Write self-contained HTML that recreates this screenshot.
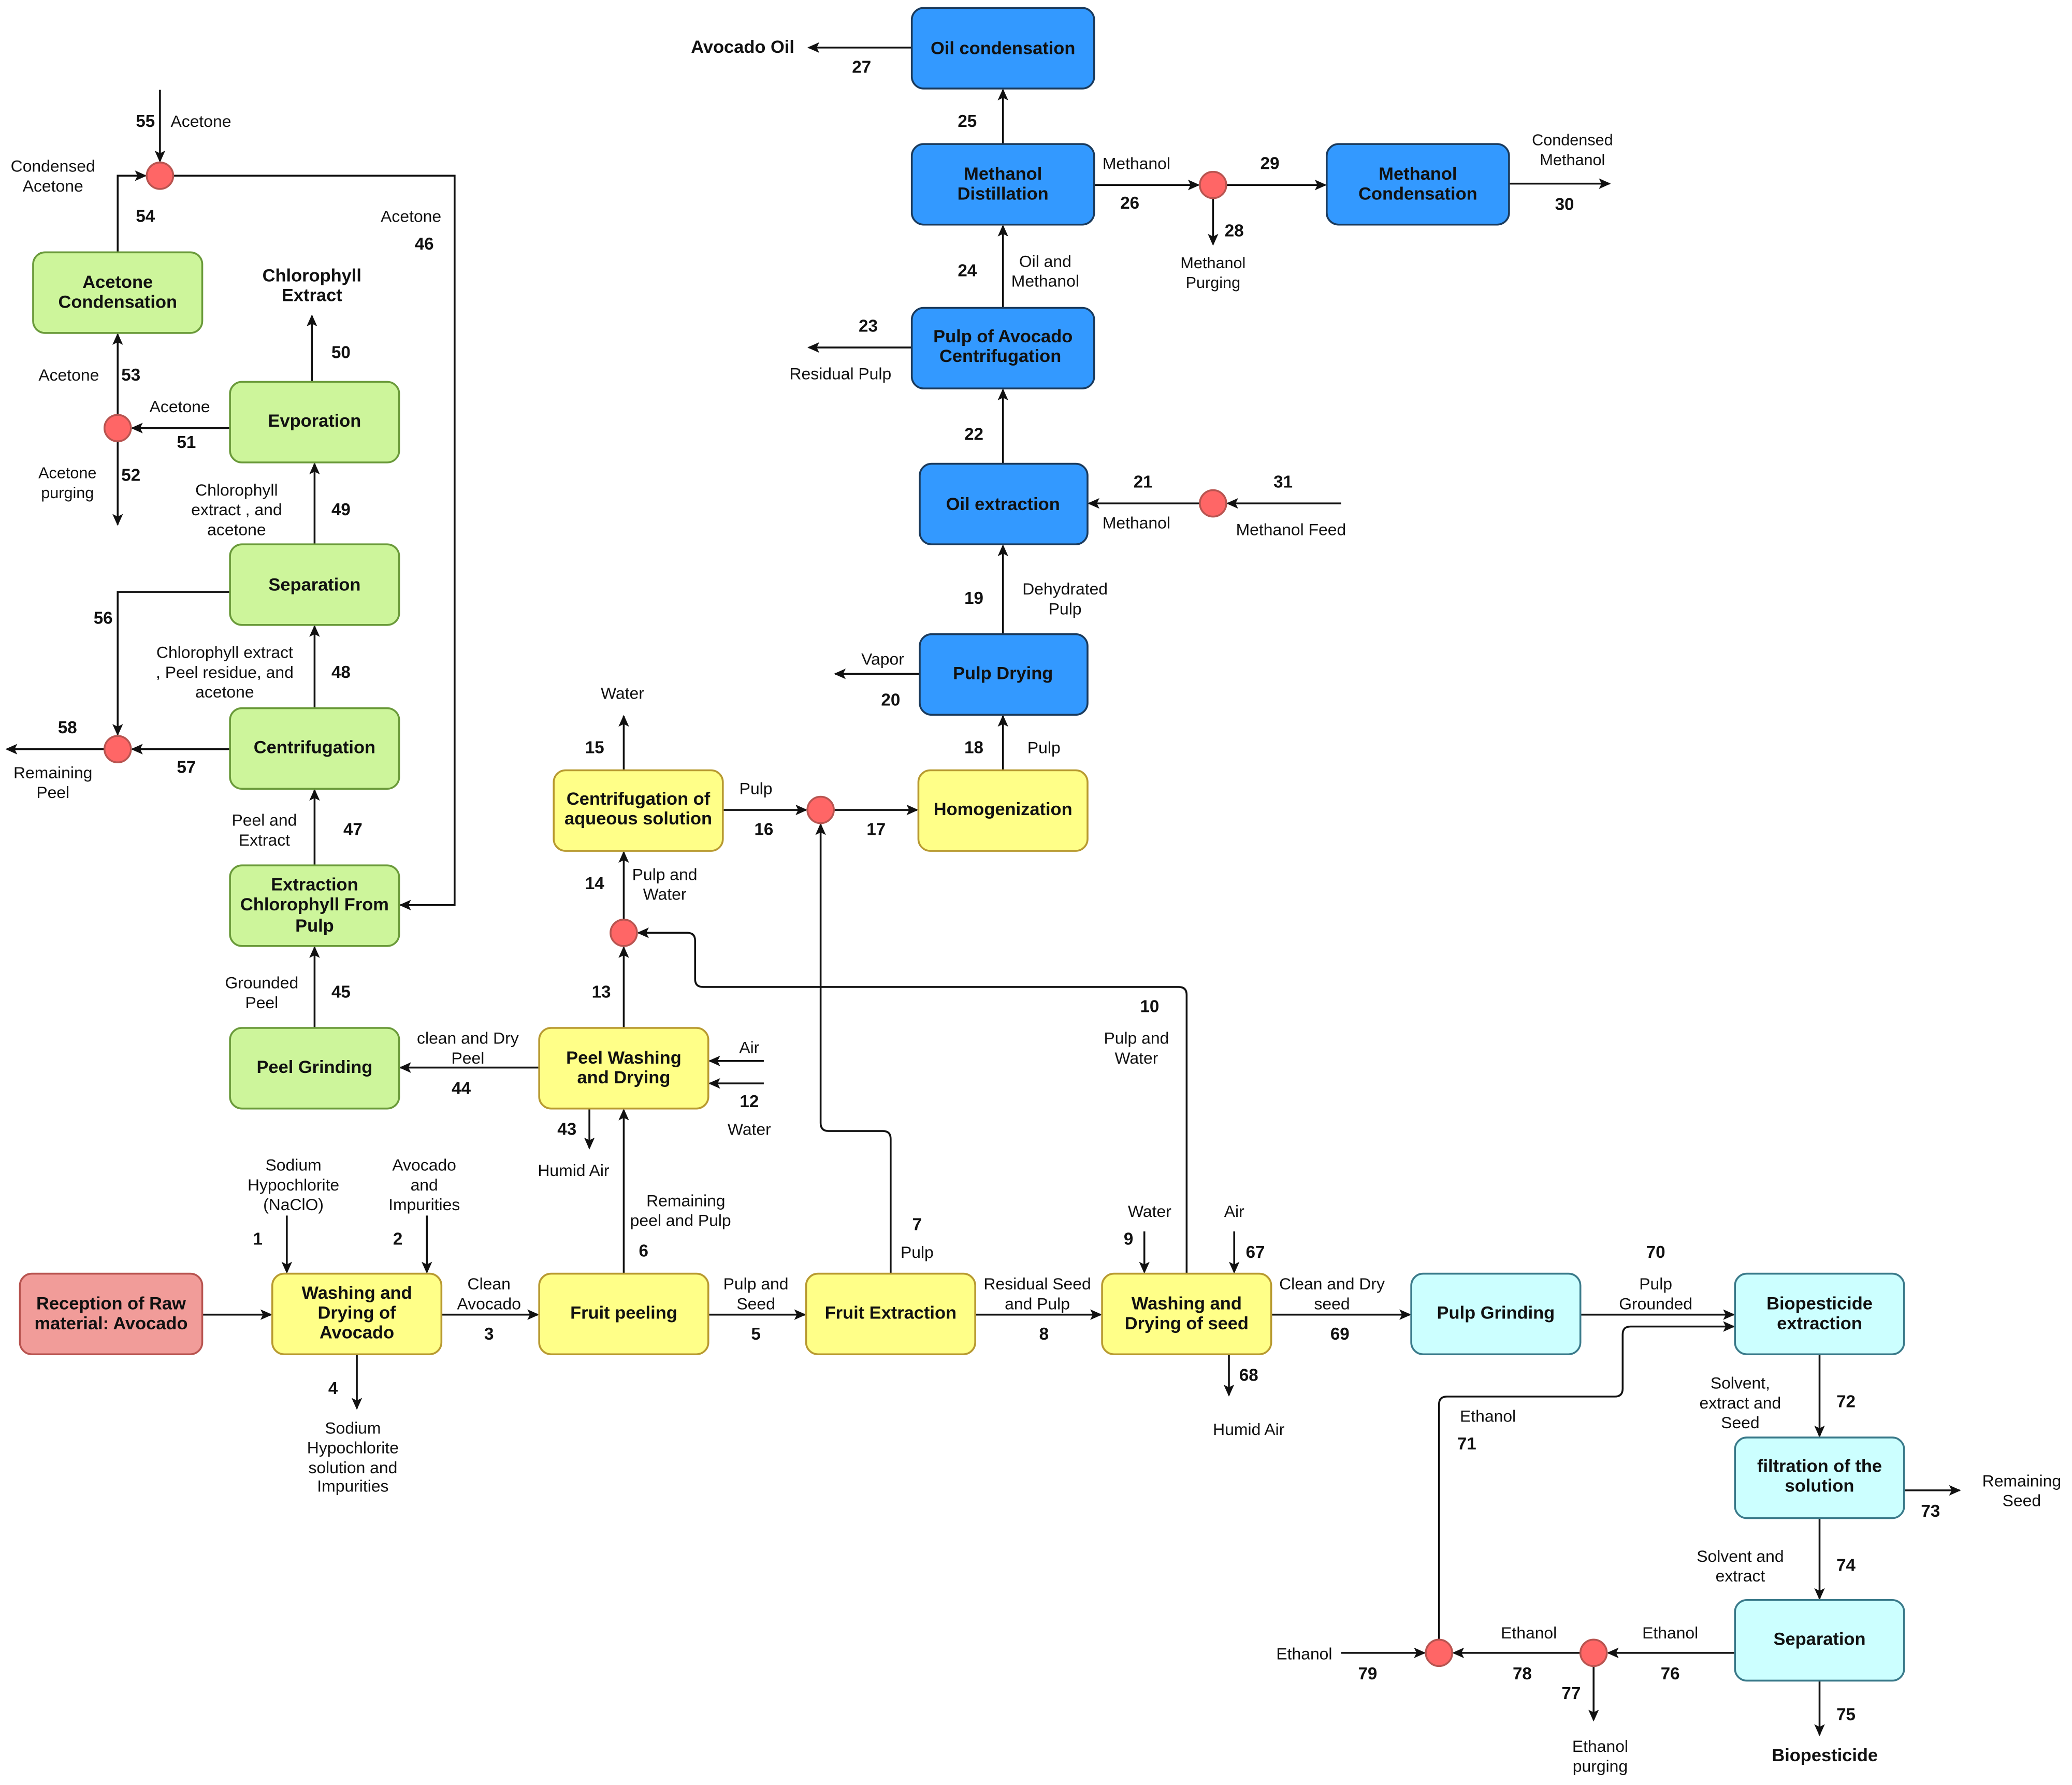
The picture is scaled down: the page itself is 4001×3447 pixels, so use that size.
<!DOCTYPE html>
<html><head><meta charset="utf-8"><style>
html,body{margin:0;padding:0;background:#fff}
svg{display:block}
text{font-family:"Liberation Sans",sans-serif;fill:#111}
.l{font-size:12.5px;text-anchor:middle}
.n{font-size:13px;font-weight:bold;text-anchor:middle}
.b{font-size:13.5px;font-weight:bold;text-anchor:middle}
.ln{stroke:#111;stroke-width:1.4;fill:none}
.g{fill:#cdf59b;stroke:#6a9a3a;stroke-width:1.4}
.y{fill:#ffff88;stroke:#b89a30;stroke-width:1.4}
.bl{fill:#3399ff;stroke:#1a3a5c;stroke-width:1.4}
.c{fill:#ccffff;stroke:#3a7a8a;stroke-width:1.4}
.r{fill:#f19c99;stroke:#b85450;stroke-width:1.4}
.ci{fill:#ff6666;stroke:#b85450;stroke-width:1.4}
</style></head><body>
<svg width="4001" height="3447" viewBox="0 0 1568 1351" xmlns="http://www.w3.org/2000/svg">
<defs><marker id="a" markerWidth="10" markerHeight="10" refX="8" refY="4" orient="auto" markerUnits="userSpaceOnUse"><path d="M0,0 L9,4 L0,8 L2,4 z" fill="#111"/></marker></defs>

<!-- connectors -->
<g class="ln" marker-end="url(#a)">
<path d="M121,68 V122"/>
<path d="M89,191 V133 H110"/>
<path d="M131,133 H344 V685 H303"/>
<path d="M236,289 V239"/>
<path d="M174,324 H100"/>
<path d="M89,314 V253"/>
<path d="M89,334 V397"/>
<path d="M238,412 V351"/>
<path d="M174,448 H89 V556"/>
<path d="M238,536 V474"/>
<path d="M174,567 H100"/>
<path d="M79,567 H5"/>
<path d="M238,655 V598"/>
<path d="M238,778 V717"/>
<path d="M408,808 H303"/>
<path d="M578,803 H537"/>
<path d="M578,820 H537"/>
<path d="M446,839 V869"/>
<path d="M472,964 V840"/>
<path d="M472,778 V717"/>
<path d="M472,696 V645"/>
<path d="M472,583 V542"/>
<path d="M547,613 H610"/>
<path d="M631,613 H694"/>
<path d="M674,964 V862 Q674,856 668,856 H627 Q621,856 621,850 V624"/>
<path d="M898,964 V753 Q898,747 892,747 H532 Q526,747 526,741 V712 Q526,706 520,706 H483"/>
<path d="M759,583 V542"/>
<path d="M696,510 H632"/>
<path d="M759,480 V413"/>
<path d="M1015,381 H929"/>
<path d="M908,381 H824"/>
<path d="M759,351 V295"/>
<path d="M690,263 H612"/>
<path d="M759,233 V171"/>
<path d="M759,109 V68"/>
<path d="M690,36 H612"/>
<path d="M828,140 H907"/>
<path d="M918,150 V185"/>
<path d="M928,140 H1003"/>
<path d="M1142,139 H1218"/>
<path d="M153,995 H205"/>
<path d="M217,920 V963"/>
<path d="M323,920 V963"/>
<path d="M270,1025 V1066"/>
<path d="M334,995 H407"/>
<path d="M536,995 H609"/>
<path d="M738,995 H833"/>
<path d="M866,932 V963"/>
<path d="M934,932 V963"/>
<path d="M930,1025 V1056"/>
<path d="M962,995 H1067"/>
<path d="M1196,995 H1312"/>
<path d="M1089,1241 V1063 Q1089,1057 1095,1057 H1222 Q1228,1057 1228,1051 V1010 Q1228,1004 1234,1004 H1312"/>
<path d="M1377,1025 V1087"/>
<path d="M1441,1128 H1483"/>
<path d="M1377,1149 V1210"/>
<path d="M1377,1272 V1313"/>
<path d="M1313,1251 H1217"/>
<path d="M1196,1251 H1100"/>
<path d="M1206,1261 V1302"/>
<path d="M1015,1251 H1078"/>
</g>

<!-- boxes -->
<rect class="bl" x="690" y="6" width="138" height="61" rx="9"/>
<rect class="bl" x="690" y="109" width="138" height="61" rx="9"/>
<rect class="bl" x="1004" y="109" width="138" height="61" rx="9"/>
<rect class="bl" x="690" y="233" width="138" height="61" rx="9"/>
<rect class="bl" x="696" y="351" width="127" height="61" rx="9"/>
<rect class="bl" x="696" y="480" width="127" height="61" rx="9"/>
<rect class="y" x="695" y="583" width="128" height="61" rx="9"/>
<rect class="y" x="419" y="583" width="128" height="61" rx="9"/>
<rect class="g" x="25" y="191" width="128" height="61" rx="9"/>
<rect class="g" x="174" y="289" width="128" height="61" rx="9"/>
<rect class="g" x="174" y="412" width="128" height="61" rx="9"/>
<rect class="g" x="174" y="536" width="128" height="61" rx="9"/>
<rect class="g" x="174" y="655" width="128" height="61" rx="9"/>
<rect class="g" x="174" y="778" width="128" height="61" rx="9"/>
<rect class="y" x="408" y="778" width="128" height="61" rx="9"/>
<rect class="r" x="15" y="964" width="138" height="61" rx="9"/>
<rect class="y" x="206" y="964" width="128" height="61" rx="9"/>
<rect class="y" x="408" y="964" width="128" height="61" rx="9"/>
<rect class="y" x="610" y="964" width="128" height="61" rx="9"/>
<rect class="y" x="834" y="964" width="128" height="61" rx="9"/>
<rect class="c" x="1068" y="964" width="128" height="61" rx="9"/>
<rect class="c" x="1313" y="964" width="128" height="61" rx="9"/>
<rect class="c" x="1313" y="1088" width="128" height="61" rx="9"/>
<rect class="c" x="1313" y="1211" width="128" height="61" rx="9"/>

<!-- circles -->
<g class="ci">
<circle cx="121" cy="133" r="10"/><circle cx="89" cy="324" r="10"/><circle cx="89" cy="567" r="10"/>
<circle cx="472" cy="706" r="10"/><circle cx="621" cy="613" r="10"/><circle cx="918" cy="140" r="10"/>
<circle cx="918" cy="381" r="10"/><circle cx="1089" cy="1251" r="10"/><circle cx="1206" cy="1251" r="10"/>
</g>

<!-- box labels -->
<text class="b" x="759" y="41">Oil condensation</text>
<text class="b" x="759" y="136">Methanol</text><text class="b" x="759" y="151">Distillation</text>
<text class="b" x="1073" y="136">Methanol</text><text class="b" x="1073" y="151">Condensation</text>
<text class="b" x="759" y="259">Pulp of Avocado</text><text class="b" x="757" y="274">Centrifugation</text>
<text class="b" x="759" y="386">Oil extraction</text>
<text class="b" x="759" y="514">Pulp Drying</text>
<text class="b" x="759" y="617">Homogenization</text>
<text class="b" x="483" y="609">Centrifugation of</text><text class="b" x="483" y="624">aqueous solution</text>
<text class="b" x="89" y="218">Acetone</text><text class="b" x="89" y="233">Condensation</text>
<text class="b" x="238" y="323">Evporation</text>
<text class="b" x="238" y="447">Separation</text>
<text class="b" x="238" y="570">Centrifugation</text>
<text class="b" x="238" y="674">Extraction</text><text class="b" x="238" y="689">Chlorophyll From</text><text class="b" x="238" y="705">Pulp</text>
<text class="b" x="238" y="812">Peel Grinding</text>
<text class="b" x="472" y="805">Peel Washing</text><text class="b" x="472" y="820">and Drying</text>
<text class="b" x="84" y="991">Reception of Raw</text><text class="b" x="84" y="1006">material: Avocado</text>
<text class="b" x="270" y="983">Washing and</text><text class="b" x="270" y="998">Drying of</text><text class="b" x="270" y="1013">Avocado</text>
<text class="b" x="472" y="998">Fruit peeling</text>
<text class="b" x="674" y="998">Fruit Extraction</text>
<text class="b" x="898" y="991">Washing and</text><text class="b" x="898" y="1006">Drying of seed</text>
<text class="b" x="1132" y="998">Pulp Grinding</text>
<text class="b" x="1377" y="991">Biopesticide</text><text class="b" x="1377" y="1006">extraction</text>
<text class="b" x="1377" y="1114">filtration of the</text><text class="b" x="1377" y="1129">solution</text>
<text class="b" x="1377" y="1245">Separation</text>

<!-- edge labels -->
<text class="n" x="110" y="96">55</text><text class="l" x="152" y="96">Acetone</text>
<text class="l" x="40" y="130">Condensed</text><text class="l" x="40" y="145">Acetone</text>
<text class="n" x="110" y="168">54</text>
<text class="l" x="311" y="168">Acetone</text><text class="n" x="321" y="189">46</text>
<text class="b" x="236" y="213">Chlorophyll</text><text class="b" x="236" y="228">Extract</text>
<text class="n" x="258" y="271">50</text>
<text class="l" x="136" y="312">Acetone</text><text class="n" x="141" y="339">51</text>
<text class="l" x="52" y="288">Acetone</text><text class="n" x="99" y="288">53</text>
<text class="l" x="51" y="362" style="font-size:12px">Acetone</text><text class="l" x="51" y="377" style="font-size:12px">purging</text><text class="n" x="99" y="364">52</text>
<text class="l" x="179" y="375">Chlorophyll</text><text class="l" x="179" y="390">extract , and</text><text class="l" x="179" y="405">acetone</text><text class="n" x="258" y="390">49</text>
<text class="n" x="78" y="472">56</text>
<text class="l" x="170" y="498">Chlorophyll extract</text><text class="l" x="170" y="513">, Peel residue, and</text><text class="l" x="170" y="528">acetone</text><text class="n" x="258" y="513">48</text>
<text class="n" x="141" y="585">57</text><text class="n" x="51" y="555">58</text>
<text class="l" x="40" y="589">Remaining</text><text class="l" x="40" y="604">Peel</text>
<text class="l" x="200" y="625">Peel and</text><text class="l" x="200" y="640">Extract</text><text class="n" x="267" y="632">47</text>
<text class="l" x="198" y="748">Grounded</text><text class="l" x="198" y="763">Peel</text><text class="n" x="258" y="755">45</text>
<text class="l" x="354" y="790">clean and Dry</text><text class="l" x="354" y="805">Peel</text><text class="n" x="349" y="828">44</text>
<text class="l" x="567" y="797">Air</text><text class="n" x="567" y="838">12</text><text class="l" x="567" y="859">Water</text>
<text class="n" x="429" y="859">43</text><text class="l" x="434" y="890">Humid Air</text>
<text class="l" x="519" y="913">Remaining</text><text class="l" x="515" y="928">peel and Pulp</text><text class="n" x="487" y="951">6</text>
<text class="n" x="455" y="755">13</text>
<text class="n" x="450" y="673">14</text><text class="l" x="503" y="666">Pulp and</text><text class="l" x="503" y="681">Water</text>
<text class="n" x="450" y="570">15</text><text class="l" x="471" y="529">Water</text>
<text class="l" x="572" y="601">Pulp</text><text class="n" x="578" y="632">16</text><text class="n" x="663" y="632">17</text>
<text class="n" x="694" y="931">7</text><text class="l" x="694" y="952">Pulp</text>
<text class="n" x="870" y="766">10</text><text class="l" x="860" y="790">Pulp and</text><text class="l" x="860" y="805">Water</text>
<text class="n" x="737" y="570">18</text><text class="l" x="790" y="570">Pulp</text>
<text class="l" x="668" y="503">Vapor</text><text class="n" x="674" y="534">20</text>
<text class="n" x="737" y="457">19</text><text class="l" x="806" y="450">Dehydrated</text><text class="l" x="806" y="465">Pulp</text>
<text class="n" x="971" y="369">31</text><text class="l" x="977" y="405">Methanol Feed</text>
<text class="n" x="865" y="369">21</text><text class="l" x="860" y="400">Methanol</text>
<text class="n" x="737" y="333">22</text>
<text class="n" x="657" y="251">23</text><text class="l" x="636" y="287">Residual Pulp</text>
<text class="n" x="732" y="209">24</text><text class="l" x="791" y="202">Oil and</text><text class="l" x="791" y="217">Methanol</text>
<text class="n" x="732" y="96">25</text>
<text class="b" x="562" y="40">Avocado Oil</text><text class="n" x="652" y="55">27</text>
<text class="l" x="860" y="128">Methanol</text><text class="n" x="855" y="158">26</text>
<text class="n" x="934" y="179">28</text><text class="l" x="918" y="203" style="font-size:12px">Methanol</text><text class="l" x="918" y="218" style="font-size:12px">Purging</text>
<text class="n" x="961" y="128">29</text>
<text class="l" x="1190" y="110" style="font-size:12px">Condensed</text><text class="l" x="1190" y="125" style="font-size:12px">Methanol</text><text class="n" x="1184" y="159">30</text>
<text class="l" x="222" y="886">Sodium</text><text class="l" x="222" y="901">Hypochlorite</text><text class="l" x="222" y="916">(NaClO)</text><text class="n" x="195" y="942">1</text>
<text class="l" x="321" y="886">Avocado</text><text class="l" x="321" y="901">and</text><text class="l" x="321" y="916">Impurities</text><text class="n" x="301" y="942">2</text>
<text class="n" x="252" y="1055">4</text>
<text class="l" x="267" y="1085">Sodium</text><text class="l" x="267" y="1100">Hypochlorite</text><text class="l" x="267" y="1115">solution and</text><text class="l" x="267" y="1129">Impurities</text>
<text class="l" x="370" y="976">Clean</text><text class="l" x="370" y="991">Avocado</text><text class="n" x="370" y="1014">3</text>
<text class="l" x="572" y="976">Pulp and</text><text class="l" x="572" y="991">Seed</text><text class="n" x="572" y="1014">5</text>
<text class="l" x="785" y="976">Residual Seed</text><text class="l" x="785" y="991">and Pulp</text><text class="n" x="790" y="1014">8</text>
<text class="l" x="870" y="921">Water</text><text class="n" x="854" y="942">9</text>
<text class="l" x="934" y="921">Air</text><text class="n" x="950" y="952">67</text>
<text class="n" x="945" y="1045">68</text><text class="l" x="945" y="1086">Humid Air</text>
<text class="l" x="1008" y="976">Clean and Dry</text><text class="l" x="1008" y="991">seed</text><text class="n" x="1014" y="1014">69</text>
<text class="n" x="1253" y="952">70</text><text class="l" x="1253" y="976">Pulp</text><text class="l" x="1253" y="991">Grounded</text>
<text class="l" x="1126" y="1076">Ethanol</text><text class="n" x="1110" y="1097">71</text>
<text class="l" x="1317" y="1051">Solvent,</text><text class="l" x="1317" y="1066">extract and</text><text class="l" x="1317" y="1081">Seed</text><text class="n" x="1397" y="1065">72</text>
<text class="n" x="1461" y="1148">73</text><text class="l" x="1530" y="1125">Remaining</text><text class="l" x="1530" y="1140">Seed</text>
<text class="l" x="1317" y="1182">Solvent and</text><text class="l" x="1317" y="1197">extract</text><text class="n" x="1397" y="1189">74</text>
<text class="n" x="1397" y="1302">75</text><text class="b" x="1381" y="1333">Biopesticide</text>
<text class="l" x="1264" y="1240">Ethanol</text><text class="n" x="1264" y="1271">76</text>
<text class="l" x="1157" y="1240">Ethanol</text><text class="n" x="1152" y="1271">78</text>
<text class="n" x="1189" y="1286">77</text><text class="l" x="1211" y="1326">Ethanol</text><text class="l" x="1211" y="1341">purging</text>
<text class="l" x="987" y="1256">Ethanol</text><text class="n" x="1035" y="1271">79</text>
</svg>
</body></html>
